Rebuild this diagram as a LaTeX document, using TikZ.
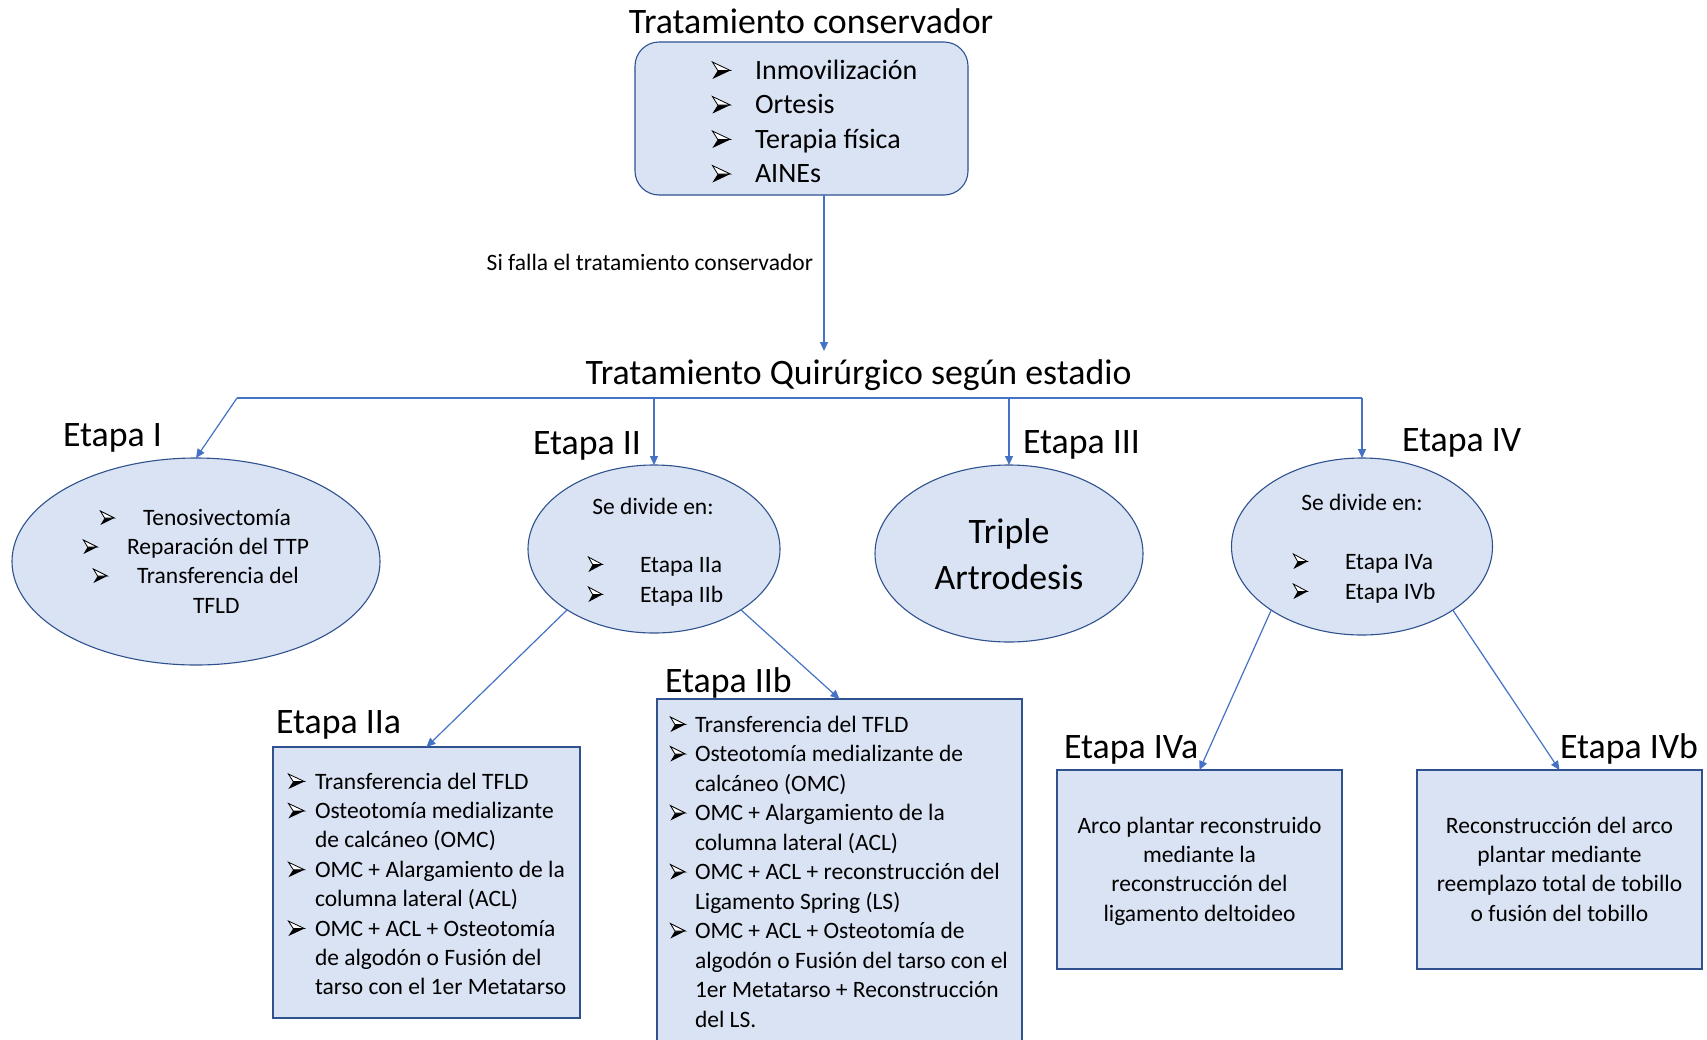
\documentclass[tikz,border=0pt]{standalone}
\usepackage{fontspec}
\setmainfont{Carlito}
\usetikzlibrary{arrows.meta,calc,shapes.geometric}
\definecolor{fillb}{HTML}{DAE3F3}
\definecolor{edgeb}{HTML}{2F528F}
\definecolor{connb}{HTML}{4472C4}
% 3D arrowhead bullet (like Wingdings)
\newcommand\arrg[2]{\tikz[baseline=0pt,x=#1,y=#2,line join=miter]{%
  \fill[black] (0,0) -- (1,0.5) -- (0.3,0.5) -- cycle;
  \draw[black,line width=0.8pt,fill=white] (0,1) -- (1,0.5) -- (0.3,0.5) -- cycle;}}
\newcommand\bl[3]{\makebox[#1][l]{\arrg{#2}{#3}}}
\begin{document}
\begin{tikzpicture}[x=1pt,y=-1pt,
  every node/.style={inner sep=0pt, outer sep=0pt},
  ttl/.style={font=\fontsize{35.8}{42}\selectfont},
  txt/.style={font=\fontsize{23.5}{29}\selectfont},
  ctxt/.style={font=\fontsize{28}{34}\selectfont},
  lbl/.style={font=\fontsize{23.5}{27}\selectfont},
  shp/.style={draw=edgeb, fill=fillb, line width=1.1pt},
  conn/.style={draw=connb, line width=1.2pt, -{Triangle[length=9pt,width=8pt]}},
  bar/.style={draw=connb, line width=1.2pt}]
\fill[white] (0,0) rectangle (1707,1039);
\useasboundingbox (0,0) rectangle (1707,1039);

% shapes
\node[shp, rectangle, rounded corners=24pt, minimum width=333pt, minimum height=153pt] (cons) at (801.5,118.5) {};
\node[shp, ellipse, minimum width=368pt, minimum height=207pt] (e1) at (196,561.5) {};
\node[shp, ellipse, minimum width=252pt, minimum height=168pt] (e2) at (654,549) {};
\node[shp, ellipse, minimum width=268pt, minimum height=177pt] (e3) at (1009,553.5) {};
\node[shp, ellipse, minimum width=261pt, minimum height=177pt] (e4) at (1362,546.5) {};
\node[shp, rectangle, minimum width=307pt, minimum height=271pt] (iia) at (426.5,882.5) {};
\node[shp, rectangle, minimum width=365pt, minimum height=360pt] (iib) at (839.5,879) {};
\node[shp, rectangle, minimum width=285pt, minimum height=199pt] (iva) at (1199.5,869.5) {};
\node[shp, rectangle, minimum width=285pt, minimum height=199pt] (ivb) at (1559.5,869.5) {};

% connectors
\coordinate (q) at (824,351);
\draw[conn] (cons.south -| q) -- (q);
\coordinate (hl) at (237,398);
\coordinate (hr) at (1362,398);
\draw[bar] (hl) -- (hr);
\draw[conn] (hl) -- (e1.north);
\draw[conn] (e2.north |- hl) -- (e2.north);
\draw[conn] (e3.north |- hl) -- (e3.north);
\draw[conn] (hr) -- (e4.north);
\draw[conn] (e2.215) -- (iia.north);
\draw[conn] (e2.325) -- (iib.north);
\draw[conn] (e4.215) -- (iva.north);
\draw[conn] (e4.325) -- (ivb.north);

% titles and labels
\node[ttl, anchor=base] (ctitle) at (811,33) {Tratamiento conservador};
\foreach \t [count=\i] in {Inmovilización, Ortesis, Terapia física, AINEs}
  \node[ctxt, anchor=base west] (cb\i) at ({712},{79+34.5*(\i-1)}) {\bl{43pt}{18pt}{17pt}\t};
\node[lbl, anchor=base east] (falla) at (813,270) {Si falla el tratamiento conservador};
\node[ttl, anchor=base] (quir) at (858.5,384) {Tratamiento Quirúrgico según estadio};

\node[ttl, anchor=base west] (l1) at (63,446) {Etapa I};
\node[ttl, anchor=base west] (l2) at (533,454) {Etapa II};
\node[ttl, anchor=base west] (l3) at (1023,453) {Etapa III};
\node[ttl, anchor=base west] (l4) at (1402,451) {Etapa IV};
\node[ttl, anchor=base west] (l2a) at (276,733) {Etapa IIa};
\node[ttl, anchor=base west] (l2b) at (665,692) {Etapa IIb};
\node[ttl, anchor=base west] (l4a) at (1064,758) {Etapa IVa};
\node[ttl, anchor=base west] (l4b) at (1560,758) {Etapa IVb};

% Etapa I ellipse
\node[txt, anchor=base west] (t1a) at (100,525) {\bl{43pt}{14pt}{14pt}Tenosivectomía};
\node[txt, anchor=base west] (t1b) at (83,554) {\bl{44pt}{14pt}{14pt}Reparación del TTP};
\node[txt, anchor=base west] (t1c) at (93,583) {\bl{44pt}{14pt}{14pt}Transferencia del};
\node[txt, anchor=base west] (t1d) at (193,613) {TFLD};

% Etapa II ellipse
\node[txt, anchor=base] (t2a) at (653,514) {Se divide en:};
\node[txt, anchor=base west] (t2b) at (588,572) {\bl{52pt}{14pt}{15pt}Etapa IIa};
\node[txt, anchor=base west] (t2c) at (588,602) {\bl{52pt}{14pt}{15pt}Etapa IIb};

% Etapa III ellipse
\node[ttl, anchor=base] (t3a) at (1009,543) {Triple};
\node[ttl, anchor=base] (t3b) at (1009,589) {Artrodesis};

% Etapa IV ellipse
\node[txt, anchor=base] (t4a) at (1362,510) {Se divide en:};
\node[txt, anchor=base west] (t4b) at (1293,569) {\bl{52pt}{14pt}{15pt}Etapa IVa};
\node[txt, anchor=base west] (t4c) at (1293,599) {\bl{52pt}{14pt}{15pt}Etapa IVb};

% Etapa IIa box
\foreach \k/\t [count=\i] in {b/Transferencia del TFLD, b/Osteotomía medializante, c/de calcáneo (OMC), b/OMC + Alargamiento de la, c/columna lateral (ACL), b/OMC + ACL + Osteotomía, c/de algodón o Fusión del, c/tarso con el 1er Metatarso}
  \node[txt, anchor=base west] (ta\i) at ({288},{789+29.4*(\i-1)}) {\if\k b\bl{27pt}{16pt}{15pt}\else\hspace*{27pt}\fi\t};

% Etapa IIb box
\foreach \k/\t [count=\i] in {b/Transferencia del TFLD, b/Osteotomía medializante de, c/calcáneo (OMC), b/OMC + Alargamiento de la, c/columna lateral (ACL), b/OMC + ACL + reconstrucción del, c/Ligamento Spring (LS), b/OMC + ACL + Osteotomía de, c/algodón o Fusión del tarso con el, c/1er Metatarso + Reconstrucción, c/del LS.}
  \node[txt, anchor=base west] (tb\i) at ({670},{732+29.5*(\i-1)}) {\if\k b\bl{25pt}{15pt}{15pt}\else\hspace*{25pt}\fi\t};

% Etapa IVa / IVb boxes
\foreach \t [count=\i] in {Arco plantar reconstruido, mediante la, reconstrucción del, ligamento deltoideo}
  \node[txt, anchor=base] (tc\i) at ({1199.5},{833+29.4*(\i-1)}) {\t};
\foreach \t [count=\i] in {Reconstrucción del arco, plantar mediante, reemplazo total de tobillo, o fusión del tobillo}
  \node[txt, anchor=base] (td\i) at ({1559.5},{833+29.4*(\i-1)}) {\t};
\end{tikzpicture}
\end{document}
